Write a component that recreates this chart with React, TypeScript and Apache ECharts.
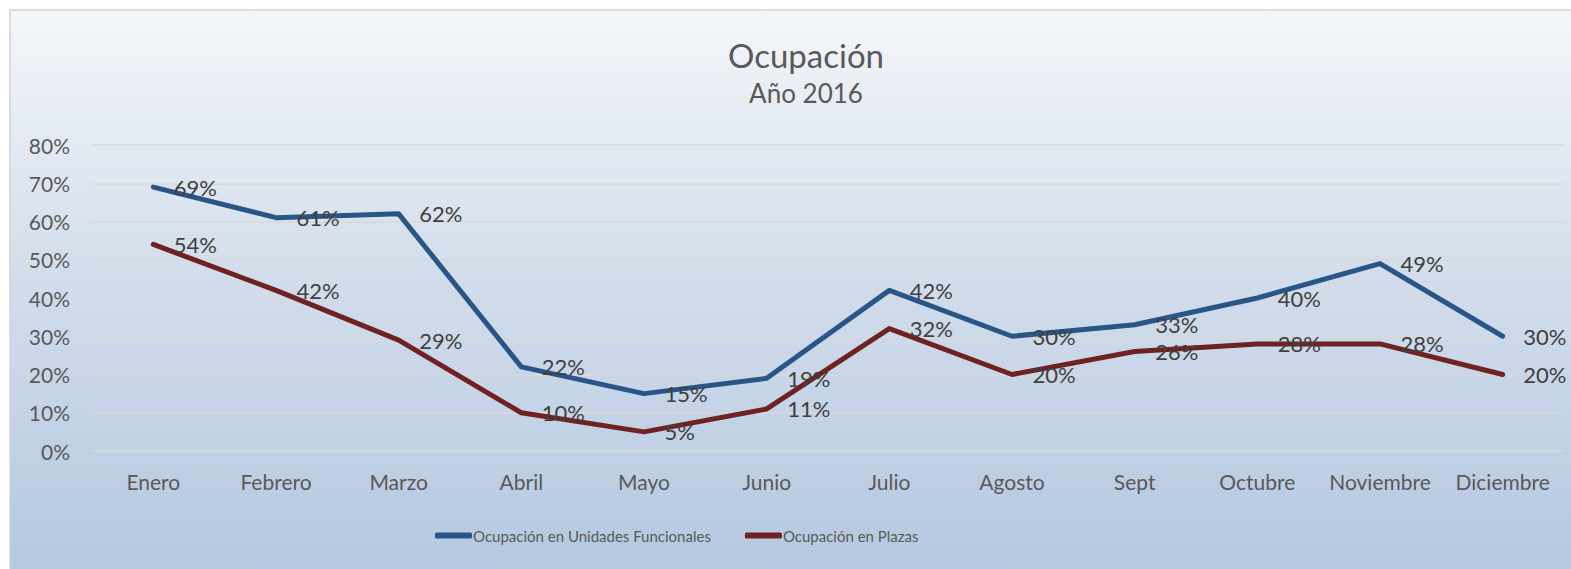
import React, { useEffect, useRef } from "react";
import * as echarts from "echarts";

const months = ["Enero", "Febrero", "Marzo", "Abril", "Mayo", "Junio", "Julio", "Agosto", "Sept", "Octubre", "Noviembre", "Diciembre"];
const unidades = [69, 61, 62, 22, 15, 19, 42, 30, 33, 40, 49, 30];
const plazas = [54, 42, 29, 10, 5, 11, 32, 20, 26, 28, 28, 20];
const seriesNames = ["Ocupación en Unidades Funcionales", "Ocupación en Plazas"];
const yTicks = { min: 0, max: 80, interval: 10 };

const FONT = "Lato";

export default function App() {
  const ref = useRef<HTMLDivElement>(null);
  useEffect(() => {
    if (!ref.current) return;
    const chart = echarts.init(ref.current, null, { renderer: "svg" });
    const mkLabel = () => ({
      show: true,
      position: "right",
      distance: 20,
      formatter: (p: any) => p.value + "%",
      color: "#404040",
      fontSize: 22,
      fontFamily: FONT,
    });
    chart.setOption({
      animation: false,
      backgroundColor: "#ffffff",
      graphic: [
        {
          type: "rect",
          z: -10,
          shape: { x: 10, y: 10, width: 1575, height: 575 },
          style: {
            fill: new echarts.graphic.LinearGradient(0, 0, 0, 1, [
              { offset: 0, color: "#F4F6F9" },
              { offset: 0.45, color: "#D3DEEC" },
              { offset: 1, color: "#B3C7E0" },
            ]),
            stroke: "#D0D3D8",
            lineWidth: 1.5,
          },
        },
      ],
      title: {
        text: "Ocupación",
        subtext: "Año 2016",
        left: 801,
        textAlign: "center",
        top: 33,
        itemGap: 9,
        textStyle: { fontFamily: FONT, fontSize: 33, fontWeight: "normal", color: "#595959" },
        subtextStyle: { fontFamily: FONT, fontSize: 26, color: "#595959" },
      },
      legend: {
        top: 523,
        left: 430,
        icon: "roundRect",
        itemWidth: 37,
        itemHeight: 6,
        itemGap: 34,
        textStyle: { fontFamily: FONT, fontSize: 15, color: "#595959", padding: [0, 0, 0, -4] },
        data: seriesNames,
      },
      grid: { left: 92, right: 7, top: 145, bottom: 118 },
      xAxis: {
        type: "category",
        data: months,
        boundaryGap: true,
        axisLine: { show: false },
        axisTick: { show: false },
        axisLabel: { interval: 0, fontFamily: FONT, fontSize: 21, color: "#595959", margin: 20 },
      },
      yAxis: {
        type: "value",
        min: yTicks.min,
        max: yTicks.max,
        interval: yTicks.interval,
        axisLabel: { formatter: "{value}%", fontFamily: FONT, fontSize: 21, color: "#595959", margin: 22 },
        splitLine: { lineStyle: { color: "#D9D9D9", width: 1.5 } },
        axisLine: { show: false },
        axisTick: { show: false },
      },
      series: [
        {
          name: seriesNames[0],
          type: "line",
          data: unidades,
          symbol: "circle",
          symbolSize: 1,
          showSymbol: true,
          color: "#2A5587",
          itemStyle: { color: "#2A5587" },
          lineStyle: { width: 5, color: "#2A5587", cap: "round", join: "round" },
          label: mkLabel(),
          labelLayout: { hideOverlap: false },
        },
        {
          name: seriesNames[1],
          type: "line",
          data: plazas,
          symbol: "circle",
          symbolSize: 1,
          showSymbol: true,
          color: "#702222",
          itemStyle: { color: "#702222" },
          lineStyle: { width: 5, color: "#702222", cap: "round", join: "round" },
          label: mkLabel(),
          labelLayout: { hideOverlap: false },
        },
      ],
    });
    return () => chart.dispose();
  }, []);
  return <div ref={ref} style={{ position: "absolute", left: 0, top: 0, width: 1571, height: 569 }} />;
}
